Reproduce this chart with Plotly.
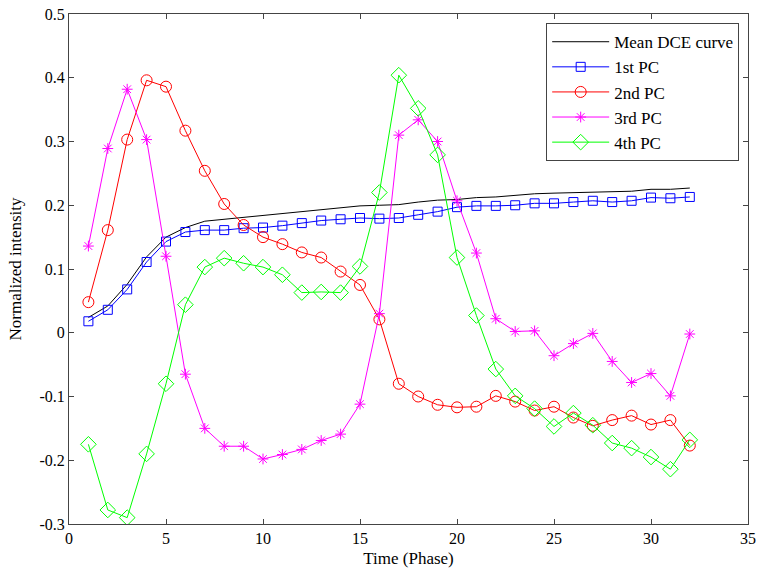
import plotly.graph_objects as go

phase = list(range(1, 33))

mean_dce = [0.024, 0.042, 0.076, 0.119, 0.150, 0.165, 0.175, 0.178, 0.181, 0.184,
            0.187, 0.190, 0.193, 0.196, 0.199, 0.200, 0.201, 0.205, 0.208, 0.209,
            0.212, 0.213, 0.216, 0.218, 0.219, 0.220, 0.221, 0.222, 0.222, 0.225,
            0.225, 0.227]
pc1 = [0.018, 0.036, 0.068, 0.111, 0.143, 0.158, 0.161, 0.161, 0.164, 0.165,
       0.168, 0.172, 0.176, 0.178, 0.180, 0.179, 0.180, 0.185, 0.190, 0.197,
       0.199, 0.199, 0.200, 0.203, 0.203, 0.205, 0.207, 0.205, 0.207, 0.212,
       0.211, 0.213]
pc2 = [0.048, 0.161, 0.303, 0.396, 0.386, 0.317, 0.254, 0.202, 0.169, 0.150,
       0.139, 0.126, 0.118, 0.096, 0.075, 0.021, -0.080, -0.100, -0.113, -0.117,
       -0.116, -0.099, -0.108, -0.122, -0.116, -0.133, -0.146, -0.137, -0.130, -0.144,
       -0.137, -0.177]
pc3 = [0.136, 0.289, 0.382, 0.303, 0.120, -0.065, -0.150, -0.178, -0.178, -0.198,
       -0.191, -0.183, -0.169, -0.159, -0.112, 0.030, 0.310, 0.334, 0.300, 0.207,
       0.125, 0.022, 0.002, 0.003, -0.036, -0.017, -0.001, -0.045, -0.078, -0.064,
       -0.099, -0.002]
pc4 = [-0.175, -0.278, -0.290, -0.190, -0.080, 0.044, 0.103, 0.117, 0.109, 0.103,
       0.091, 0.063, 0.064, 0.063, 0.104, 0.220, 0.404, 0.352, 0.279, 0.118,
       0.027, -0.057, -0.099, -0.119, -0.147, -0.126, -0.145, -0.173, -0.181, -0.195,
       -0.214, -0.168]

x_ticks = [0, 5, 10, 15, 20, 25, 30, 35]
y_ticks = [-0.3, -0.2, -0.1, 0, 0.1, 0.2, 0.3, 0.4, 0.5]
y_tick_labels = ["-0.3", "-0.2", "-0.1", "0", "0.1", "0.2", "0.3", "0.4", "0.5"]

series = [
    ("Mean DCE curve", mean_dce, "black", None, 0),
    ("1st PC", pc1, "#0000FF", "square-open", 9),
    ("2nd PC", pc2, "#FF0000", "circle-open", 11),
    ("3rd PC", pc3, "#FF00FF", "asterisk-open", 9),
    ("4th PC", pc4, "#00FF00", "diamond-open", 12),
]

fig = go.Figure()
for name, vals, color, sym, size in series:
    if sym is None:
        fig.add_trace(go.Scatter(x=phase, y=vals, name=name, mode="lines",
                                 line=dict(color=color, width=1)))
    else:
        fig.add_trace(go.Scatter(x=phase, y=vals, name=name, mode="lines+markers",
                                 line=dict(color=color, width=1),
                                 marker=dict(symbol=sym, size=size, color=color,
                                             line=dict(color=color, width=1))))

serif = "Liberation Serif"
axis_common = dict(
    showgrid=False, zeroline=False, showline=True, linecolor="#444444", linewidth=1,
    mirror="ticks", ticks="inside", ticklen=5, tickcolor="#444444",
    tickfont=dict(family=serif, size=16, color="black"), automargin=False,
    ticklabeloverflow="allow",
)

fig.update_layout(
    width=765, height=577,
    margin=dict(l=69, r=17, t=14, b=53),
    paper_bgcolor="white", plot_bgcolor="white",
    font=dict(family=serif, size=16, color="black"),
    xaxis=dict(range=[0, 35], tickvals=x_ticks,
               title=dict(text="Time (Phase)", standoff=5,
                          font=dict(family=serif, size=17)),
               **axis_common),
    yaxis=dict(range=[-0.3, 0.5], tickvals=y_ticks, ticktext=y_tick_labels,
               title=dict(text="Normalized intensity", standoff=13,
                          font=dict(family=serif, size=17)),
               **axis_common),
    legend=dict(x=0.987, y=0.982, xanchor="right", yanchor="top",
                bgcolor="white", bordercolor="#444444", borderwidth=1,
                font=dict(family=serif, size=17),
                itemwidth=57, tracegroupgap=0),
    showlegend=True,
)

# remove the browser's default 8px body margin so the figure sits at the page origin
fig.write_html("out.html",
               config={"displayModeBar": False},
               post_script="document.body.style.margin='0px';document.body.style.overflow='hidden';")
